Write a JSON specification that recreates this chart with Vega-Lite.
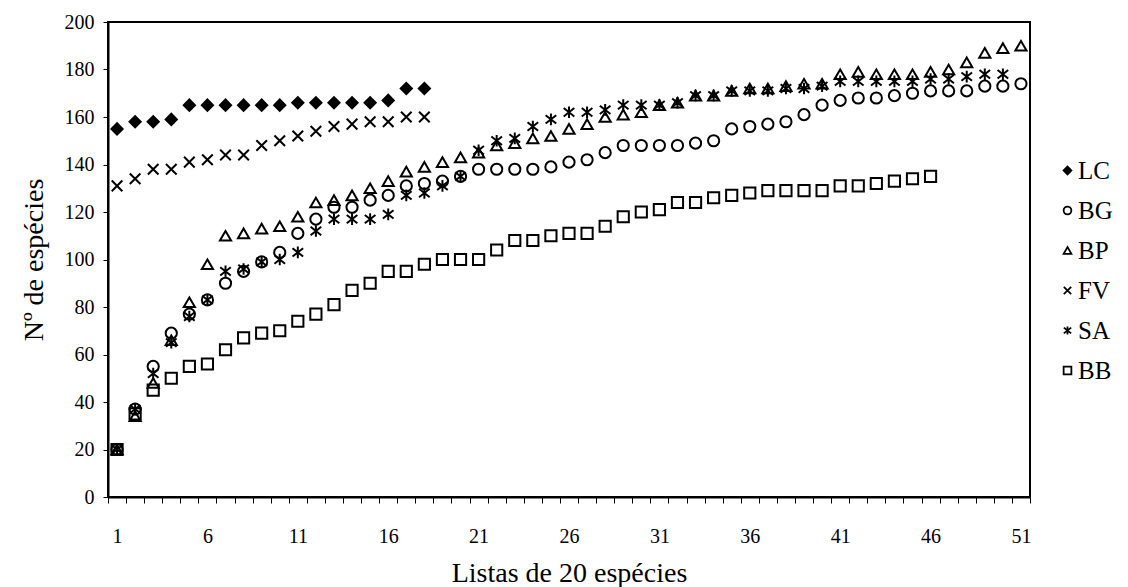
{
  "$schema": "https://vega.github.io/schema/vega-lite/v6.json",
  "width": 922,
  "height": 475,
  "autosize": "none",
  "padding": {"left": 108, "top": 22, "right": 98, "bottom": 90},
  "background": "white",
  "config": {
    "view": {"stroke": "black", "strokeWidth": 2},
    "font": "Liberation Serif"
  },
  "data": {
    "values": [
      {"x": 1, "LC": 155, "FV": 131, "BG": 20, "BP": 20, "SA": 20, "BB": 20},
      {"x": 2, "LC": 158, "FV": 134, "BG": 37, "BP": 34, "SA": 37, "BB": 35},
      {"x": 3, "LC": 158, "FV": 138, "BG": 55, "BP": 48, "SA": 52, "BB": 45},
      {"x": 4, "LC": 159, "FV": 138, "BG": 69, "BP": 66, "SA": 65, "BB": 50},
      {"x": 5, "LC": 165, "FV": 141, "BG": 77, "BP": 82, "SA": 76, "BB": 55},
      {"x": 6, "LC": 165, "FV": 142, "BG": 83, "BP": 98, "SA": 83, "BB": 56},
      {"x": 7, "LC": 165, "FV": 144, "BG": 90, "BP": 110, "SA": 95, "BB": 62},
      {"x": 8, "LC": 165, "FV": 144, "BG": 95, "BP": 111, "SA": 96, "BB": 67},
      {"x": 9, "LC": 165, "FV": 148, "BG": 99, "BP": 113, "SA": 99, "BB": 69},
      {"x": 10, "LC": 165, "FV": 150, "BG": 103, "BP": 114, "SA": 100, "BB": 70},
      {"x": 11, "LC": 166, "FV": 152, "BG": 111, "BP": 118, "SA": 103, "BB": 74},
      {"x": 12, "LC": 166, "FV": 154, "BG": 117, "BP": 124, "SA": 112, "BB": 77},
      {"x": 13, "LC": 166, "FV": 156, "BG": 122, "BP": 125, "SA": 117, "BB": 81},
      {"x": 14, "LC": 166, "FV": 157, "BG": 122, "BP": 127, "SA": 117, "BB": 87},
      {"x": 15, "LC": 166, "FV": 158, "BG": 125, "BP": 130, "SA": 117, "BB": 90},
      {"x": 16, "LC": 167, "FV": 158, "BG": 127, "BP": 133, "SA": 119, "BB": 95},
      {"x": 17, "LC": 172, "FV": 160, "BG": 131, "BP": 137, "SA": 127, "BB": 95},
      {"x": 18, "LC": 172, "FV": 160, "BG": 132, "BP": 139, "SA": 128, "BB": 98},
      {"x": 19, "BG": 133, "BP": 141, "SA": 131, "BB": 100},
      {"x": 20, "BG": 135, "BP": 143, "SA": 135, "BB": 100},
      {"x": 21, "BG": 138, "BP": 145, "SA": 146, "BB": 100},
      {"x": 22, "BG": 138, "BP": 148, "SA": 150, "BB": 104},
      {"x": 23, "BG": 138, "BP": 149, "SA": 151, "BB": 108},
      {"x": 24, "BG": 138, "BP": 151, "SA": 156, "BB": 108},
      {"x": 25, "BG": 139, "BP": 152, "SA": 159, "BB": 110},
      {"x": 26, "BG": 141, "BP": 155, "SA": 162, "BB": 111},
      {"x": 27, "BG": 142, "BP": 157, "SA": 162, "BB": 111},
      {"x": 28, "BG": 145, "BP": 160, "SA": 163, "BB": 114},
      {"x": 29, "BG": 148, "BP": 161, "SA": 165, "BB": 118},
      {"x": 30, "BG": 148, "BP": 162, "SA": 165, "BB": 120},
      {"x": 31, "BG": 148, "BP": 165, "SA": 165, "BB": 121},
      {"x": 32, "BG": 148, "BP": 166, "SA": 166, "BB": 124},
      {"x": 33, "BG": 149, "BP": 169, "SA": 169, "BB": 124},
      {"x": 34, "BG": 150, "BP": 169, "SA": 169, "BB": 126},
      {"x": 35, "BG": 155, "BP": 171, "SA": 171, "BB": 127},
      {"x": 36, "BG": 156, "BP": 172, "SA": 171, "BB": 128},
      {"x": 37, "BG": 157, "BP": 172, "SA": 171, "BB": 129},
      {"x": 38, "BG": 158, "BP": 173, "SA": 172, "BB": 129},
      {"x": 39, "BG": 161, "BP": 174, "SA": 172, "BB": 129},
      {"x": 40, "BG": 165, "BP": 174, "SA": 173, "BB": 129},
      {"x": 41, "BG": 167, "BP": 178, "SA": 175, "BB": 131},
      {"x": 42, "BG": 168, "BP": 179, "SA": 175, "BB": 131},
      {"x": 43, "BG": 168, "BP": 178, "SA": 175, "BB": 132},
      {"x": 44, "BG": 169, "BP": 178, "SA": 175, "BB": 133},
      {"x": 45, "BG": 170, "BP": 178, "SA": 175, "BB": 134},
      {"x": 46, "BG": 171, "BP": 179, "SA": 176, "BB": 135},
      {"x": 47, "BG": 171, "BP": 180, "SA": 176},
      {"x": 48, "BG": 171, "BP": 183, "SA": 177},
      {"x": 49, "BG": 173, "BP": 187, "SA": 178},
      {"x": 50, "BG": 173, "BP": 189, "SA": 178},
      {"x": 51, "BG": 174, "BP": 190}
    ]
  },
  "transform": [
    {"fold": ["LC", "BG", "BP", "FV", "SA", "BB"], "as": ["series", "value"]},
    {"filter": "isValid(datum.value)"}
  ],
  "mark": {"type": "point", "filled": false, "strokeWidth": 2, "size": 125, "opacity": 1},
  "encoding": {
    "x": {
      "field": "x",
      "type": "quantitative",
      "scale": {"domain": [0.5, 51.5], "nice": false, "zero": false},
      "axis": {
        "values": [0.5,1,1.5,2,2.5,3,3.5,4,4.5,5,5.5,6,6.5,7,7.5,8,8.5,9,9.5,10,10.5,11,11.5,12,12.5,13,13.5,14,14.5,15,15.5,16,16.5,17,17.5,18,18.5,19,19.5,20,20.5,21,21.5,22,22.5,23,23.5,24,24.5,25,25.5,26,26.5,27,27.5,28,28.5,29,29.5,30,30.5,31,31.5,32,32.5,33,33.5,34,34.5,35,35.5,36,36.5,37,37.5,38,38.5,39,39.5,40,40.5,41,41.5,42,42.5,43,43.5,44,44.5,45,45.5,46,46.5,47,47.5,48,48.5,49,49.5,50,50.5,51,51.5],
        "labelExpr": "(datum.value % 1 == 0 && (datum.value - 1) % 5 == 0) ? ('' + datum.value) : ''",
        "tickOpacity": {"expr": "datum.value % 1 == 0 ? 0 : 1"},
        "labelOverlap": false,
        "grid": false,
        "domainColor": "black",
        "domainWidth": 2,
        "tickColor": "black",
        "tickSize": 6,
        "tickWidth": 1,
        "labelFont": "Liberation Serif",
        "labelFontSize": 20,
        "labelColor": "black",
        "labelPadding": 23,
        "title": "Listas de 20 espécies",
        "titleFont": "Liberation Serif",
        "titleFontSize": 28,
        "titleFontWeight": "normal",
        "titleColor": "black",
        "titlePadding": 13
      }
    },
    "y": {
      "field": "value",
      "type": "quantitative",
      "scale": {"domain": [0, 200], "nice": false},
      "axis": {
        "values": [0, 20, 40, 60, 80, 100, 120, 140, 160, 180, 200],
        "grid": false,
        "domainColor": "black",
        "domainWidth": 2,
        "tickColor": "black",
        "tickSize": 5,
        "labelFont": "Liberation Serif",
        "labelFontSize": 20,
        "labelColor": "black",
        "labelPadding": 9,
        "title": "Nº de espécies",
        "titleFont": "Liberation Serif",
        "titleFontSize": 28,
        "titleFontWeight": "normal",
        "titleColor": "black",
        "titlePadding": 16
      }
    },
    "shape": {
      "field": "series",
      "type": "nominal",
      "scale": {
        "domain": ["LC", "BG", "BP", "FV", "SA", "BB"],
        "range": ["diamond", "circle", "triangle-up", "M-0.95,-0.95L0.95,0.95M-0.95,0.95L0.95,-0.95", "M-0.95,-0.75L0.95,0.75M-0.95,0.75L0.95,-0.75M0,-1.05L0,1.05", "square"]
      },
      "legend": {
        "title": null,
        "orient": "none",
        "legendX": 947,
        "legendY": 136,
        "labelFont": "Liberation Serif",
        "labelFontSize": 25,
        "labelColor": "black",
        "symbolSize": 60,
        "symbolStrokeWidth": 1.8,
        "rowPadding": 14,
        "labelOffset": -2
      }
    },
    "stroke": {
      "field": "series",
      "type": "nominal",
      "scale": {
        "domain": ["LC", "BG", "BP", "FV", "SA", "BB"],
        "range": ["black", "black", "black", "black", "black", "black"]
      }
    },
    "fill": {
      "field": "series",
      "type": "nominal",
      "scale": {
        "domain": ["LC", "BG", "BP", "FV", "SA", "BB"],
        "range": ["black", "transparent", "transparent", "transparent", "transparent", "transparent"]
      }
    }
  }
}
